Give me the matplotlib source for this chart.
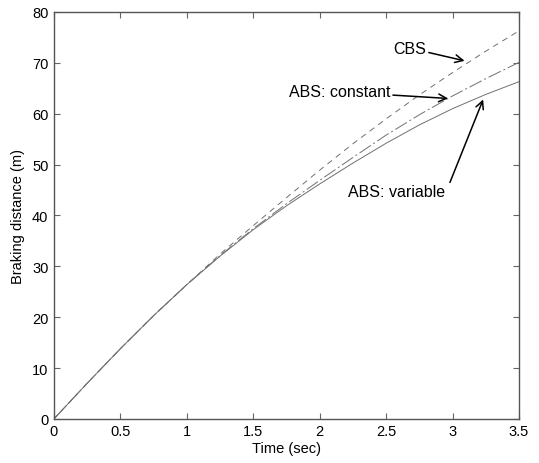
import matplotlib
matplotlib.use('Agg')
import matplotlib.pyplot as plt

plt.rcParams['font.family'] = ['Liberation Sans', 'DejaVu Sans']

# datos
tiempo = [0, 0.25, 0.5, 0.75, 1.0, 1.25, 1.5, 1.75, 2.0, 2.25, 2.5, 2.75, 3.0, 3.25, 3.5]
cbs = [0, 7.0, 13.8, 20.3, 26.4, 32.4, 38.0, 43.5, 48.9, 54.1, 59.0, 63.7, 68.1, 72.3, 76.3]
abs_constante = [0, 7.0, 13.8, 20.3, 26.4, 32.1, 37.4, 42.3, 46.9, 51.4, 55.8, 59.8, 63.5, 66.9, 70.1]
abs_variable = [0, 7.0, 13.8, 20.3, 26.4, 32.0, 37.2, 41.9, 46.2, 50.3, 54.2, 57.8, 61.0, 63.8, 66.3]

xticks = [0, 0.5, 1, 1.5, 2, 2.5, 3, 3.5]
xtick_labels = ['0', '0.5', '1', '1.5', '2', '2.5', '3', '3.5']
yticks = [0, 10, 20, 30, 40, 50, 60, 70, 80]

fig = plt.figure(figsize=(5.39, 4.64), dpi=100)
ax = fig.add_axes([0.1, 0.095, 0.863, 0.877])

gris = '#707070'
ax.plot(tiempo, cbs, color=gris, lw=0.7, linestyle=(0, (6, 5)))
ax.plot(tiempo, abs_constante, color=gris, lw=0.7, linestyle=(0, (14, 3, 2, 3)))
ax.plot(tiempo, abs_variable, color=gris, lw=0.7, linestyle='-')

ax.set_xlim(0, 3.5)
ax.set_ylim(0, 80)
ax.set_xticks(xticks)
ax.set_xticklabels(xtick_labels)
ax.set_yticks(yticks)
ax.tick_params(direction='in', top=True, right=True, length=4, width=0.8,
               color='#666666', labelsize=10.5, pad=4)
for s in ax.spines.values():
    s.set_color('#555555')
    s.set_linewidth(1.0)

ax.set_xlabel('Time (sec)', fontsize=10.5, labelpad=2)
ax.set_ylabel('Braking distance (m)', fontsize=10.5, labelpad=5)

# anotaciones con flechas
flecha = dict(arrowstyle='->', color='black', lw=1.1, shrinkA=0, shrinkB=0,
              mutation_scale=14)
ax.annotate('CBS', xy=(3.09, 70.4), xytext=(2.8, 72.9), fontsize=11.5,
            ha='right', va='center', arrowprops=flecha)
ax.annotate('ABS: constant', xy=(2.966, 63.0), xytext=(2.53, 64.3), fontsize=11.5,
            ha='right', va='center', arrowprops=flecha)
ax.text(2.94, 44.8, 'ABS: variable', fontsize=11.5, ha='right', va='center')
ax.annotate('', xy=(3.23, 62.8), xytext=(2.98, 46.5), arrowprops=flecha)

fig.savefig('out.png', dpi=100)
